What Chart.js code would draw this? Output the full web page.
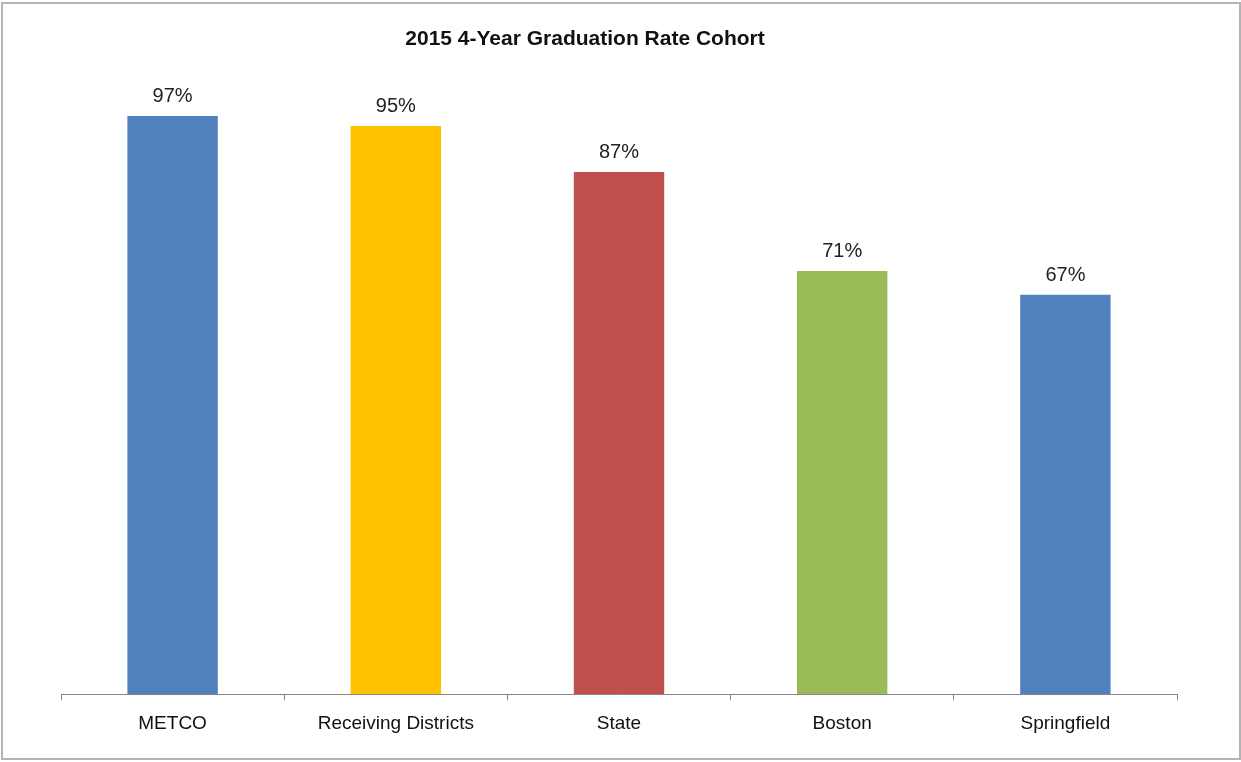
<!DOCTYPE html>
<html>
<head>
<meta charset="utf-8">
<script src="https://cdn.jsdelivr.net/npm/chart.js@4/dist/chart.umd.min.js"></script>
<style>
  html, body { margin: 0; padding: 0; background: #fff; }
  #wrap { position: relative; width: 1241px; height: 762px; }
  #frame { position: absolute; left: 1px; top: 2px; width: 1236px; height: 754px;
    border: 2px solid #b4b4b4; pointer-events: none; }
</style>
</head>
<body>
<div id="wrap">
  <canvas id="chart"></canvas>
  <div id="frame"></div>
</div>
<script>
const categories = ['METCO', 'Receiving Districts', 'State', 'Boston', 'Springfield'];
const rates = [0.97, 0.953, 0.876, 0.71, 0.67];
const rateLabels = ['97%', '95%', '87%', '71%', '67%'];
const barColors = ['#4F81BD', '#FFC000', '#C0504D', '#9BBB59', '#4F81BD'];
const chartTitle = '2015 4-Year Graduation Rate Cohort';

const FONT = '"Liberation Sans", Arial, sans-serif';

// title + % values above each bar
const valueLabels = {
  id: 'valueLabels',
  afterDatasetsDraw(chart) {
    const ctx = chart.ctx;
    const meta = chart.getDatasetMeta(0);
    ctx.save();
    ctx.fillStyle = '#111';
    ctx.textAlign = 'center';
    ctx.textBaseline = 'middle';
    ctx.font = 'bold 21px ' + FONT;
    ctx.fillText(chartTitle, 585, 39);

    ctx.fillStyle = '#222';
    ctx.font = '20px ' + FONT;
    ctx.textBaseline = 'alphabetic';
    meta.data.forEach((bar, i) => {
      ctx.fillText(rateLabels[i], bar.x, bar.y - 14);
    });
    ctx.restore();
  }
};

const ctx = document.getElementById('chart');
new Chart(ctx, {
  type: 'bar',
  data: {
    labels: categories,
    datasets: [{
      data: rates,
      backgroundColor: barColors,
      borderWidth: 0,
      categoryPercentage: 1,
      barPercentage: 0.405
    }]
  },
  options: {
    responsive: true,
    maintainAspectRatio: false,
    animation: false,
    layout: { padding: { left: 61, right: 64, top: 98, bottom: 15 } },
    plugins: {
      legend: { display: false },
      tooltip: { enabled: false },
      title: { display: false }
    },
    scales: {
      y: { display: false, min: 0, max: 1 },
      x: {
        offset: true,
        grid: { display: true, offset: true, drawOnChartArea: false, drawTicks: true, tickLength: 6, color: '#868686' },
        border: { display: true, color: '#868686', width: 1 },
        ticks: { color: '#111', padding: 12, font: { family: FONT, size: 19 } }
      }
    }
  },
  plugins: [valueLabels]
});
</script>
</body>
</html>
